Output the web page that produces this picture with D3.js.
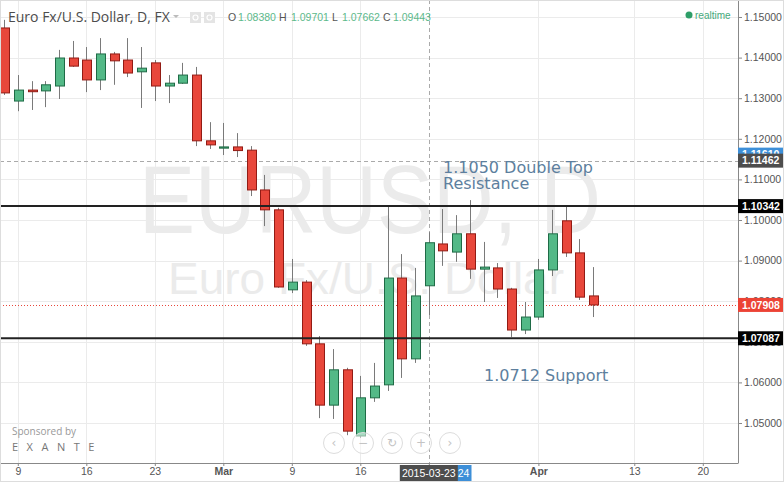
<!DOCTYPE html>
<html><head><meta charset="utf-8">
<script src="https://cdn.jsdelivr.net/npm/d3@7/dist/d3.min.js"></script>
<style>
body{margin:0;background:#fff;}
svg{display:block;font-family:"Liberation Sans",Arial,sans-serif;}
</style></head><body>
<svg id="c" width="784" height="482"></svg>
<script>
// ---------- DATA ----------
const dates = ["2015-02-06","2015-02-09","2015-02-10","2015-02-11","2015-02-12","2015-02-13",
"2015-02-16","2015-02-17","2015-02-18","2015-02-19","2015-02-20",
"2015-02-23","2015-02-24","2015-02-25","2015-02-26","2015-02-27",
"2015-03-02","2015-03-03","2015-03-04","2015-03-05","2015-03-06",
"2015-03-09","2015-03-10","2015-03-11","2015-03-12","2015-03-13",
"2015-03-16","2015-03-17","2015-03-18","2015-03-19","2015-03-20",
"2015-03-23","2015-03-24","2015-03-25","2015-03-26","2015-03-27",
"2015-03-30","2015-03-31","2015-04-01","2015-04-02","2015-04-03",
"2015-04-06","2015-04-07","2015-04-08"];
const opens  = [1.1473,1.1293,1.1320,1.1318,1.1330,1.1399,1.1394,1.1345,1.1409,1.1394,1.1365,
1.1387,1.1330,1.1337,1.1357,1.1195,1.1177,1.1180,1.1172,1.1074,1.1025,
1.0828,1.0847,1.0695,1.0544,1.0631,1.0468,1.0562,1.0594,1.0857,1.0658,
1.0838,1.0941,1.0921,1.0966,1.0879,1.0882,1.0830,1.0729,1.0761,1.0877,
1.0998,1.0919,1.0813];
const highs  = [1.1493,1.1357,1.1342,1.1342,1.1419,1.1441,1.1426,1.1448,1.1414,1.1448,1.1426,
1.1394,1.1357,1.1387,1.1377,1.1241,1.1239,1.1214,1.1182,1.1111,1.1030,
1.0904,1.0852,1.0714,1.0682,1.0636,1.0616,1.0648,1.1034,1.0916,1.0882,
1.0970,1.1027,1.1012,1.1049,1.0946,1.0894,1.0833,1.0798,1.0904,1.1025,
1.1032,1.0953,1.0884];
const lows   = [1.1308,1.1268,1.1271,1.1278,1.1298,1.1377,1.1315,1.1320,1.1333,1.1352,1.1276,
1.1293,1.1288,1.1335,1.1182,1.1175,1.1160,1.1155,1.1059,1.0985,1.0833,
1.0820,1.0690,1.0512,1.0510,1.0470,1.0463,1.0552,1.0579,1.0611,1.0648,
1.0766,1.0887,1.0897,1.0855,1.0798,1.0808,1.0712,1.0719,1.0754,1.0862,
1.0909,1.0803,1.0761];
const closes = [1.1313,1.1320,1.1316,1.1333,1.1399,1.1379,1.1345,1.1409,1.1392,1.1362,1.1374,
1.1330,1.1337,1.1357,1.1195,1.1185,1.1180,1.1171,1.1074,1.1025,1.0835,
1.0847,1.0695,1.0544,1.0631,1.0480,1.0562,1.0591,1.0857,1.0658,1.0813,
1.0944,1.0924,1.0966,1.0879,1.0884,1.0830,1.0729,1.0761,1.0877,1.0966,
1.0919,1.0810,1.07908];
const priceTicks = [1.05,1.06,1.07,1.08,1.09,1.10,1.11,1.12,1.13,1.14,1.15];
const dateTickIdx    = [1,6,11,16,21,26,31,39,46,51];
const dateTickLabels = ["9","16","23","Mar","9","16","23","Apr","13","20"];
const resistance = 1.10342, support = 1.07087, lastPrice = 1.07908;
const crossPrice = 1.11462, bluePrice = 1.11610;
const crossIdx = 31;
const header = {title:"Euro Fx/U.S. Dollar, D, FX", O:"1.08380", H:"1.09701", L:"1.07662", C:"1.09443"};

// ---------- LAYOUT ----------
const W=784,H=482, plotR=738, plotB=463;
const svg=d3.select("#c");
const x=d3.scaleLinear().domain([-0.3,53.57]).range([0,plotR]);
const y=d3.scaleLinear().domain([1.154187,1.040148]).range([0,plotB]);
const green="#53b987", greenB="#1f6b46", red="#e8473b", redB="#921b14";

// grid
const g=svg.append("g");
g.selectAll(".hg").data(priceTicks).join("line")
 .attr("x1",0).attr("x2",plotR).attr("y1",d=>Math.round(y(d))+0.5).attr("y2",d=>Math.round(y(d))+0.5)
 .attr("stroke","#ebebeb");
g.selectAll(".vg").data(dateTickIdx.filter(i=>i!==crossIdx)).join("line")
 .attr("y1",0).attr("y2",plotB).attr("x1",d=>Math.round(x(d))+0.5).attr("x2",d=>Math.round(x(d))+0.5)
 .attr("stroke","#ebebeb");

// watermark
const wmX = plotR/2 + 1;
svg.append("text").attr("x",wmX).attr("y",233).attr("text-anchor","middle")
 .attr("font-size",96).attr("fill","#ebebeb").attr("textLength",462).attr("lengthAdjust","spacingAndGlyphs")
 .text("EURUSD, D");
svg.append("text").attr("x",wmX-4).attr("y",294).attr("text-anchor","middle")
 .attr("font-size",44).attr("fill","#ebebeb").attr("textLength",396).attr("lengthAdjust","spacingAndGlyphs")
 .text("Euro Fx/U.S. Dollar");

// crosshair lines
svg.append("line").attr("x1",0).attr("x2",plotR).attr("y1",Math.round(y(crossPrice))+0.5).attr("y2",Math.round(y(crossPrice))+0.5)
 .attr("stroke","#aaa").attr("stroke-dasharray","4,3");
svg.append("line").attr("y1",0).attr("y2",plotB).attr("x1",Math.round(x(crossIdx))+0.5).attr("x2",Math.round(x(crossIdx))+0.5)
 .attr("stroke","#aaa").attr("stroke-dasharray","4,3");

// last price dotted line
svg.append("line").attr("x1",0).attr("x2",plotR).attr("y1",Math.round(y(lastPrice))+0.5).attr("y2",Math.round(y(lastPrice))+0.5)
 .attr("stroke",red).attr("stroke-dasharray","1,2");

// candles
const data=dates.map((d,i)=>({i,o:opens[i],h:highs[i],l:lows[i],c:closes[i]}));
const cg=svg.append("g");
cg.selectAll(".wick").data(data).join("line")
 .attr("x1",d=>Math.round(x(d.i))+0.5).attr("x2",d=>Math.round(x(d.i))+0.5)
 .attr("y1",d=>y(d.h)).attr("y2",d=>y(d.l)).attr("stroke","#7a7a7a");
cg.selectAll(".body").data(data).join("rect")
 .attr("x",d=>Math.round(x(d.i))-4+0.5).attr("width",9)
 .attr("y",d=>y(Math.max(d.o,d.c))).attr("height",d=>Math.max(1,Math.abs(y(d.o)-y(d.c))))
 .attr("fill",d=>d.c>=d.o?green:red).attr("stroke",d=>d.c>=d.o?greenB:redB).attr("stroke-width",1);

// horizontal lines
[resistance,support].forEach(p=>{
 svg.append("line").attr("x1",0).attr("x2",plotR).attr("y1",y(p)).attr("y2",y(p))
  .attr("stroke","#222").attr("stroke-width",2);
});

// annotations
const ann=svg.append("g").attr("font-family","'DejaVu Sans',Verdana,sans-serif").attr("font-size",16).attr("fill","#5d7f9e");
ann.append("text").attr("x",443).attr("y",173).text("1.1050 Double Top");
ann.append("text").attr("x",443).attr("y",189).text("Resistance");
ann.append("text").attr("x",484).attr("y",381).text("1.0712 Support");

// axes
svg.append("line").attr("x1",plotR+0.5).attr("x2",plotR+0.5).attr("y1",0).attr("y2",plotB).attr("stroke","#888");
svg.append("line").attr("x1",0).attr("x2",plotR+0.5).attr("y1",plotB+0.5).attr("y2",plotB+0.5).attr("stroke","#888");
const ya=svg.append("g").attr("transform",`translate(${plotR},0)`)
 .call(d3.axisRight(y).tickValues(priceTicks).tickSize(4).tickPadding(2).tickFormat(d3.format(".5f")));
ya.select(".domain").remove();
ya.selectAll("line").attr("stroke","#888");
ya.selectAll("text").attr("fill","#555").attr("font-size",10.5).attr("font-family","'Liberation Sans',Arial,sans-serif");

const xa=svg.append("g").attr("transform",`translate(0,${plotB})`)
 .call(d3.axisBottom(x).tickValues(dateTickIdx).tickSize(3).tickPadding(2).tickFormat((d,k)=>dateTickLabels[k]));
xa.select(".domain").remove();
xa.selectAll("line").attr("stroke","#888");
xa.selectAll("text").attr("fill","#555").attr("font-size",10.5).attr("font-family","'Liberation Sans',Arial,sans-serif")
 .attr("font-weight",(d,k)=>isNaN(+dateTickLabels[k])?"bold":"normal");

// price labels on axis
function priceBox(p,fill){
 const cy=y(p);
 svg.append("rect").attr("x",plotR).attr("y",cy-7).attr("width",45).attr("height",14).attr("fill",fill);
 svg.append("text").attr("x",plotR+4).attr("y",cy).attr("dy","0.35em").attr("fill","#fff")
  .attr("font-size",10.5).attr("font-weight","bold").text(d3.format(".5f")(p));
}
priceBox(bluePrice,"#3d8fd8");
priceBox(crossPrice,"#4d4d4d");
priceBox(resistance,"#000");
priceBox(lastPrice,"#ec4335");
priceBox(support,"#000");

// date labels on axis (crosshair)
function dateBox(i,fill,w){
 const cx=x(i);
 svg.append("rect").attr("x",cx-w/2).attr("y",plotB+2).attr("width",w).attr("height",16).attr("fill",fill);
 svg.append("text").attr("x",cx).attr("y",plotB+10).attr("dy","0.35em").attr("text-anchor","middle")
  .attr("fill","#fff").attr("font-size",10.5).text(dates[i]);
}
dateBox(crossIdx+1,"#3d8fd8",58);
dateBox(crossIdx,"#4d4d4d",58);

// header
const hd=svg.append("g");
hd.append("text").attr("x",8).attr("y",22).attr("font-family","'Open Sans',sans-serif").attr("font-size",14)
 .attr("fill","#4c4c4c").text(header.title);
hd.append("path").attr("d","M173,15 L179,15 L176,18 Z").attr("fill","#bbb");
[190,204].forEach(xx=>{
 hd.append("rect").attr("x",xx).attr("y",12).attr("width",11).attr("height",11).attr("fill","#e4e4e4");
 hd.append("circle").attr("cx",xx+5.5).attr("cy",17.5).attr("r",2.5).attr("fill","none").attr("stroke","#fff").attr("stroke-width",1.2);
});
const ohlc=[["O",228,header.O,238],["H",279,header.H,291],["L",332,header.L,342],["C",383,header.C,393]];
ohlc.forEach(([k,kx,v,vx])=>{
 hd.append("text").attr("x",kx).attr("y",21).attr("font-size",10.5).attr("fill","#555").text(k);
 hd.append("text").attr("x",vx).attr("y",21).attr("font-size",10.5).attr("fill","#5cb98b").text(v);
});
hd.append("circle").attr("cx",689).attr("cy",15).attr("r",3.5).attr("fill","#2e9e68");
hd.append("text").attr("x",695).attr("y",18.5).attr("font-size",10).attr("fill","#45a97a").text("realtime");

// sponsor
svg.append("text").attr("x",12).attr("y",435).attr("font-family","'Open Sans',sans-serif").attr("font-size",10).attr("fill","#999").text("Sponsored by");
svg.append("text").attr("x",12).attr("y",451).attr("font-family","'Open Sans',sans-serif").attr("font-size",11).attr("letter-spacing",8.5).attr("fill","#777").text("EXANTE");

// nav buttons
const btns=["‹","−","↻","+","›"];
btns.forEach((b,k)=>{
 const cx=334+k*29, cy=443;
 svg.append("circle").attr("cx",cx).attr("cy",cy).attr("r",10.5).attr("fill","rgba(255,255,255,0.5)").attr("stroke","#ddd");
 svg.append("text").attr("x",cx).attr("y",cy).attr("dy","0.35em").attr("text-anchor","middle")
  .attr("font-family","'DejaVu Sans',sans-serif").attr("font-size",12).attr("fill","#c4c4c4").text(b);
});

// outer border
svg.append("rect").attr("x",0.5).attr("y",0.5).attr("width",W-1).attr("height",H-1).attr("fill","none").attr("stroke","#ddd");
</script></body></html>
